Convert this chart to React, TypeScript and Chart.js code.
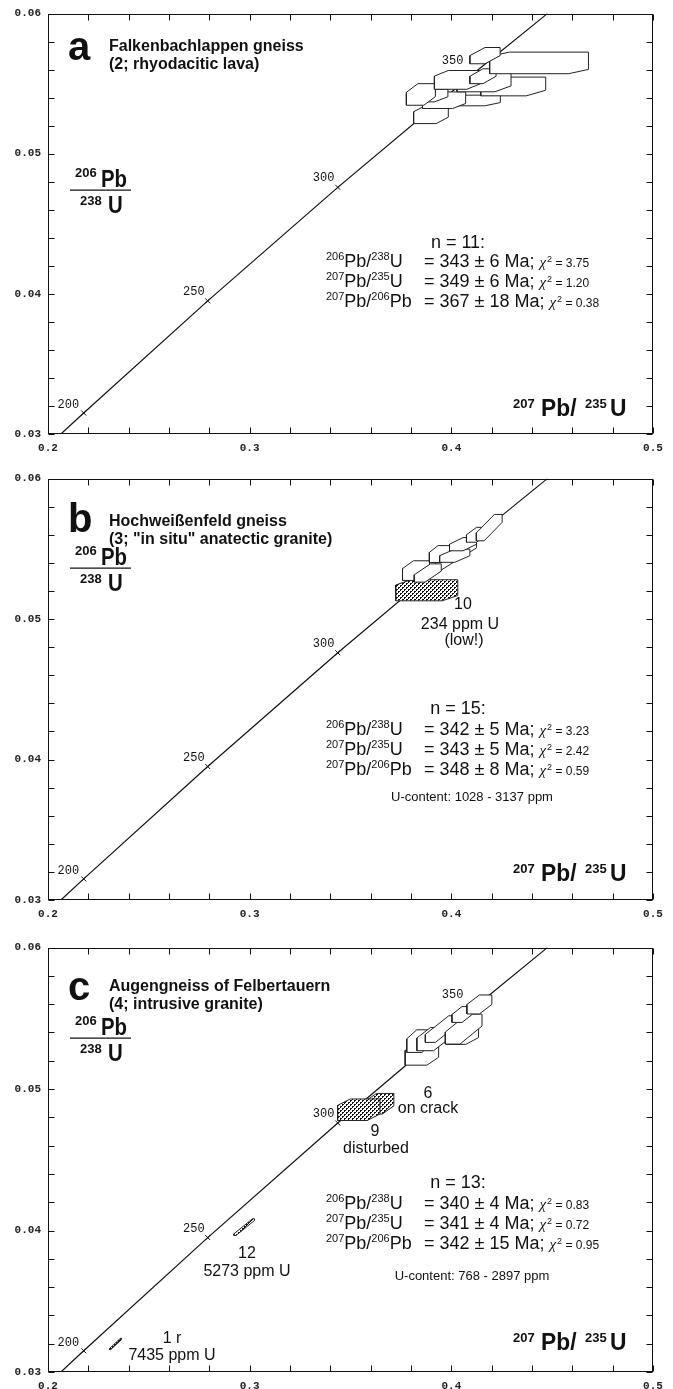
import React, { useEffect, useRef } from "react";
import { Chart, registerables } from "chart.js";
Chart.register(...registerables);

// ---------- axes ----------
const X_MIN = 0.2, X_MAX = 0.5, Y_MIN = 0.03, Y_MAX = 0.06;
const xTickValues = [0.2, 0.3, 0.4, 0.5];
const xTickLabels = ["0.2", "0.3", "0.4", "0.5"];
const yTickValues = [0.03, 0.04, 0.05, 0.06];
const yTickLabels = ["0.03", "0.04", "0.05", "0.06"];
const xMinorTicks = [0.2, 0.22, 0.24, 0.26, 0.28, 0.3, 0.32, 0.34, 0.36, 0.38, 0.4, 0.42, 0.44, 0.46, 0.48, 0.5];
const yMinorTicks = [0.03, 0.032, 0.034, 0.036, 0.038, 0.04, 0.042, 0.044, 0.046, 0.048, 0.05, 0.052, 0.054, 0.056, 0.058, 0.06];

// ---------- concordia ----------
const concordiaX = [0.2064, 0.2177, 0.2792, 0.3437, 0.4116, 0.4476];
const concordiaY = [0.0300, 0.0315, 0.0395, 0.0476, 0.0558, 0.0600];
const ageMarkX = [0.2177, 0.2792, 0.3437, 0.4116];
const ageMarkY = [0.0315, 0.0395, 0.0476, 0.0558];
const ageLabels = ["200", "250", "300", "350"];
const ageLabelX = [0.2047, 0.2670, 0.3313, 0.3953];
const ageLabelY = [0.03182, 0.03991, 0.04804, 0.05642];

// ---------- panel a boxes ----------
const aBoxX = [0.3899, 0.4114, 0.3964, 0.3899, 0.3849, 0.4307, 0.4162, 0.4031, 0.4157, 0.4435, 0.4167];
const aBoxY = [0.0528, 0.0538, 0.05382, 0.05415, 0.05423, 0.0548, 0.05512, 0.05527, 0.05553, 0.05648, 0.0570];
const aBoxSX = [0.0086, 0.0129, 0.0107, 0.0084, 0.0072, 0.0161, 0.0134, 0.0115, 0.0065, 0.0245, 0.0075];
const aBoxSY = [0.00065, 0.00038, 0.00059, 0.00045, 0.00077, 0.00067, 0.0007, 0.00067, 0.00053, 0.00077, 0.00058];
const aBoxRho = [0.35, 0.3, 0.3, 0.4, 0.4, 0.3, 0.3, 0.3, 0.5, 0.2, 0.5];
const aBoxShaded = [0, 0, 0, 0, 0, 0, 0, 0, 0, 0, 0];

// ---------- panel b boxes ----------
const bBoxX = [0.3878, 0.3992, 0.3825, 0.3883, 0.3945, 0.4017, 0.4058, 0.4125, 0.4188];
const bBoxY = [0.05205, 0.05423, 0.05345, 0.05328, 0.05463, 0.05451, 0.05533, 0.0560, 0.05651];
const bBoxSX = [0.0154, 0.0133, 0.0067, 0.0067, 0.0054, 0.0075, 0.0067, 0.005, 0.0064];
const bBoxSY = [0.00075, 0.0012, 0.0007, 0.00065, 0.0006, 0.00047, 0.00047, 0.00053, 0.00094];
const bBoxRho = [0.25, 0.85, 0.4, 0.6, 0.4, 0.5, 0.5, 0.5, 0.7];
const bBoxShaded = [1, 0, 0, 0, 0, 0, 0, 0, 0];

// ---------- panel c boxes ----------
const cBoxX = [0.2335, 0.2973, 0.3643, 0.3541, 0.3854, 0.3841, 0.3904, 0.3954, 0.4056, 0.4061, 0.4053, 0.4139];
const cBoxY = [0.03198, 0.04024, 0.04896, 0.04854, 0.05249, 0.05339, 0.05353, 0.05424, 0.05376, 0.05424, 0.05527, 0.05598];
const cBoxSX = [0.003, 0.0051, 0.0072, 0.0105, 0.0083, 0.0062, 0.0075, 0.0083, 0.0079, 0.0091, 0.005, 0.0062];
const cBoxSY = [0.0004, 0.00059, 0.00073, 0.00076, 0.0008, 0.0008, 0.00082, 0.00094, 0.0006, 0.00106, 0.00056, 0.00067];
const cBoxRho = [0.9, 0.9, 0.4, 0.3, 0.35, 0.4, 0.45, 0.7, 0.4, 0.6, 0.5, 0.5];
const cBoxShaded = [1, 1, 1, 1, 0, 0, 0, 0, 0, 0, 0, 0];

// ---------- texts ----------
const panelLetters = ["a", "b", "c"];
const titles1 = ["Falkenbachlappen gneiss", "Hochweißenfeld gneiss", "Augengneiss of Felbertauern"];
const titles2 = ["(2; rhyodacitic lava)", "(3; \"in situ\" anatectic granite)", "(4; intrusive granite)"];
const nCounts = ["n = 11:", "n = 15:", "n = 13:"];
const ages206238 = ["343 ± 6 Ma;", "342 ± 5 Ma;", "340 ± 4 Ma;"];
const ages207235 = ["349 ± 6 Ma;", "343 ± 5 Ma;", "341 ± 4 Ma;"];
const ages207206 = ["367 ± 18 Ma;", "348 ± 8 Ma;", "342 ± 15 Ma;"];
const chi206238 = ["3.75", "3.23", "0.83"];
const chi207235 = ["1.20", "2.42", "0.72"];
const chi207206 = ["0.38", "0.59", "0.95"];
const uContent = ["", "U-content: 1028 - 3137 ppm", "U-content: 768 - 2897 ppm"];

const SANS = "'Liberation Sans', Arial, sans-serif";
const MONO = "'Liberation Mono', 'DejaVu Sans Mono', monospace";

function hexagon(x: number, y: number, sx: number, sy: number, rho: number) {
  const x0 = x - sx, x1 = x + sx, y0 = y - sy, y1 = y + sy;
  const a = 2 * sx * rho, b = 2 * sy * rho;
  return [
    { x: x0, y: y0 }, { x: x1 - a, y: y0 }, { x: x1, y: y0 + b },
    { x: x1, y: y1 }, { x: x0 + a, y: y1 }, { x: x0, y: y1 - b }, { x: x0, y: y0 },
  ];
}

function makePattern(): CanvasPattern | string {
  const c = document.createElement("canvas");
  c.width = 4; c.height = 4;
  const g = c.getContext("2d");
  if (!g) return "#999";
  g.fillStyle = "#fff"; g.fillRect(0, 0, 4, 4);
  g.fillStyle = "#111";
  g.fillRect(0, 0, 1, 1); g.fillRect(1, 0, 1, 1); g.fillRect(0, 1, 1, 1);
  g.fillRect(2, 2, 1, 1); g.fillRect(3, 2, 1, 1); g.fillRect(2, 3, 1, 1);
  return g.createPattern(c, "repeat") || "#999";
}

function drawCond(ctx: CanvasRenderingContext2D, t: string, x: number, y: number, size: number, sx = 0.85) {
  ctx.save();
  ctx.font = `bold ${size}px ${SANS}`;
  ctx.translate(x, y);
  ctx.scale(sx, 1);
  ctx.fillText(t, 0, 0);
  const w = ctx.measureText(t).width * sx;
  ctx.restore();
  return w;
}

function txt(ctx: CanvasRenderingContext2D, t: string, x: number, y: number, font: string, align: CanvasTextAlign = "left") {
  ctx.font = font;
  ctx.textAlign = align;
  ctx.fillText(t, x, y);
  const w = ctx.measureText(t).width;
  ctx.textAlign = "left";
  return w;
}

type PanelCfg = {
  idx: number; canvasTop: number; canvasH: number;
  boxX: number[]; boxY: number[]; boxSX: number[]; boxSY: number[]; boxRho: number[]; boxShaded: number[];
  letterRel: number; titleRel: number[]; yTitleRel: number; statRel: number[]; uRel: number;
  ageShown: number[];
  extra: (ctx: CanvasRenderingContext2D, top: number) => void;
};

const panels: PanelCfg[] = [
  {
    idx: 0, canvasTop: 0, canvasH: 467,
    boxX: aBoxX, boxY: aBoxY, boxSX: aBoxSX, boxSY: aBoxSY, boxRho: aBoxRho, boxShaded: aBoxShaded,
    letterRel: 46, titleRel: [37, 55], yTitleRel: 176, statRel: [234, 253, 273, 293], uRel: 0,
    ageShown: [0, 1, 2, 3], extra: () => {},
  },
  {
    idx: 1, canvasTop: 465, canvasH: 468,
    boxX: bBoxX, boxY: bBoxY, boxSX: bBoxSX, boxSY: bBoxSY, boxRho: bBoxRho, boxShaded: bBoxShaded,
    letterRel: 53, titleRel: [47, 65], yTitleRel: 89, statRel: [235, 256, 276, 296], uRel: 322,
    ageShown: [0, 1, 2],
    extra: (ctx, top) => {
      const f = `16px ${SANS}`;
      txt(ctx, "10", 463, top + 130, f, "center");
      txt(ctx, "234 ppm U", 460, top + 150, f, "center");
      txt(ctx, "(low!)", 464, top + 166, f, "center");
    },
  },
  {
    idx: 2, canvasTop: 934, canvasH: 471,
    boxX: cBoxX, boxY: cBoxY, boxSX: cBoxSX, boxSY: cBoxSY, boxRho: cBoxRho, boxShaded: cBoxShaded,
    letterRel: 52, titleRel: [43, 61], yTitleRel: 90, statRel: [240, 261, 281, 301], uRel: 332,
    ageShown: [0, 1, 2, 3],
    extra: (ctx, top) => {
      const f = `16px ${SANS}`;
      txt(ctx, "6", 428, top + 150, f, "center");
      txt(ctx, "on crack", 428, top + 165, f, "center");
      txt(ctx, "9", 375, top + 188, f, "center");
      txt(ctx, "disturbed", 376, top + 205, f, "center");
      txt(ctx, "12", 247, top + 310, f, "center");
      txt(ctx, "5273 ppm U", 247, top + 328, f, "center");
      txt(ctx, "1 r", 172, top + 395, f, "center");
      txt(ctx, "7435 ppm U", 172, top + 412, f, "center");
    },
  },
];

function buildChart(canvas: HTMLCanvasElement, p: PanelCfg) {
  const pattern = makePattern();
  const datasets: any[] = [];
  datasets.push({
    data: concordiaX.map((x, i) => ({ x, y: concordiaY[i] })),
    borderColor: "#111", borderWidth: 1.2, pointRadius: 0, fill: false, order: 1000,
  });
  datasets.push({
    data: ageMarkX.map((x, i) => ({ x, y: ageMarkY[i] })),
    showLine: false, pointStyle: "crossRot", pointRadius: 3.5, pointBorderWidth: 1,
    pointBorderColor: "#111", borderColor: "#111", order: 900,
  });
  p.boxX.forEach((x, i) => {
    datasets.push({
      data: hexagon(x, p.boxY[i], p.boxSX[i], p.boxSY[i], p.boxRho[i]),
      borderColor: "#222", borderWidth: 1, pointRadius: 0, fill: "shape",
      backgroundColor: p.boxShaded[i] ? pattern : "#ffffff", order: 500 - i,
    });
  });

  const frame = {
    id: "frame",
    afterDraw(chart: any) {
      const { ctx, chartArea, scales } = chart;
      const xs = scales.x, ys = scales.y;
      const L = Math.round(chartArea.left) + 0.5, R = Math.round(chartArea.right) - 0.5;
      const T = Math.round(chartArea.top) + 0.5, B = Math.round(chartArea.bottom) - 0.5;
      ctx.save();
      ctx.strokeStyle = "#111";
      ctx.lineWidth = 1;
      ctx.strokeRect(L, T, R - L, B - T);
      ctx.beginPath();
      xMinorTicks.forEach((v) => {
        const px = Math.round(xs.getPixelForValue(v)) + 0.5;
        ctx.moveTo(px, B); ctx.lineTo(px, B - 6);
        ctx.moveTo(px, T); ctx.lineTo(px, T + 6);
      });
      yMinorTicks.forEach((v) => {
        const py = Math.round(ys.getPixelForValue(v)) + 0.5;
        ctx.moveTo(L, py); ctx.lineTo(L + 6, py);
        ctx.moveTo(R, py); ctx.lineTo(R - 6, py);
      });
      ctx.stroke();

      const top = chartArea.top;
      ctx.fillStyle = "#111";
      ctx.textBaseline = "alphabetic";
      p.ageShown.forEach((k) => {
        txt(ctx, ageLabels[k], xs.getPixelForValue(ageLabelX[k]), ys.getPixelForValue(ageLabelY[k]), `12px ${MONO}`);
      });
      txt(ctx, panelLetters[p.idx], 68, top + p.letterRel, `bold 40px ${SANS}`);
      txt(ctx, titles1[p.idx], 109, top + p.titleRel[0], `bold 16px ${SANS}`);
      txt(ctx, titles2[p.idx], 109, top + p.titleRel[1], `bold 16px ${SANS}`);
      const ly = top + p.yTitleRel;
      txt(ctx, "206", 75, ly - 13, `bold 13px ${SANS}`);
      drawCond(ctx, "Pb", 101, ly - 3, 24);
      ctx.beginPath(); ctx.lineWidth = 1.2; ctx.moveTo(70, ly + 0.5); ctx.lineTo(131, ly + 0.5); ctx.stroke();
      txt(ctx, "238", 80, ly + 15, `bold 13px ${SANS}`);
      drawCond(ctx, "U", 108, ly + 23, 24);
      const xb = top + 402;
      txt(ctx, "207", 513, xb - 8, `bold 13px ${SANS}`);
      drawCond(ctx, "Pb/", 541, xb, 24, 0.95);
      txt(ctx, "235", 585, xb - 8, `bold 13px ${SANS}`);
      drawCond(ctx, "U", 610, xb, 24, 0.95);
      const big = `18px ${SANS}`, sup = `11px ${SANS}`;
      txt(ctx, nCounts[p.idx], 458, top + p.statRel[0], big, "center");
      const rows: [string, string, string, string][] = [
        ["206", "238U", ages206238[p.idx], chi206238[p.idx]],
        ["207", "235U", ages207235[p.idx], chi207235[p.idx]],
        ["207", "206Pb", ages207206[p.idx], chi207206[p.idx]],
      ];
      rows.forEach((r, i) => {
        const by = top + p.statRel[i + 1];
        let cx = 326;
        cx += txt(ctx, r[0], cx, by - 7, sup);
        cx += txt(ctx, "Pb/", cx, by, big);
        cx += txt(ctx, r[1].slice(0, 3), cx, by - 7, sup);
        txt(ctx, r[1].slice(3), cx, by, big);
        let ex = 424;
        ex += txt(ctx, "= " + r[2], ex, by, big);
        ex += 5;
        ex += txt(ctx, "χ", ex, by, `italic 15px 'Liberation Serif', serif`);
        ex += txt(ctx, "2", ex + 1, by - 5, `9px ${SANS}`) + 1;
        txt(ctx, " = " + r[3], ex, by, `12px ${SANS}`);
      });
      if (uContent[p.idx]) txt(ctx, uContent[p.idx], 472, top + p.uRel, `13px ${SANS}`, "center");
      p.extra(ctx, top);
      ctx.restore();
    },
  };

  return new Chart(canvas, {
    type: "line",
    data: { datasets },
    options: {
      responsive: false,
      animation: false,
      events: [],
      layout: { padding: { top: 11, right: 20, bottom: 0, left: 0 } },
      plugins: { legend: { display: false }, tooltip: { enabled: false } },
      scales: {
        x: {
          type: "linear", min: X_MIN, max: X_MAX,
          afterBuildTicks: (s: any) => { s.ticks = xTickValues.map((v) => ({ value: v })); },
          afterFit: (s: any) => { s.height = 33; },
          ticks: {
            autoSkip: false, maxRotation: 0, padding: 8, color: "#222",
            font: { family: MONO, size: 11, weight: "bold" },
            callback: (_v: any, i: number) => xTickLabels[i],
          },
          grid: { display: false, drawTicks: false }, border: { display: false },
        },
        y: {
          type: "linear", min: Y_MIN, max: Y_MAX,
          afterBuildTicks: (s: any) => { s.ticks = yTickValues.map((v) => ({ value: v })); },
          afterFit: (s: any) => { s.width = 48; },
          ticks: {
            autoSkip: false, padding: 7, color: "#222",
            font: { family: MONO, size: 11, weight: "bold" },
            callback: (_v: any, i: number) => yTickLabels[i],
          },
          grid: { display: false, drawTicks: false }, border: { display: false },
        },
      },
    } as any,
    plugins: [frame],
  });
}

export default function App() {
  const r0 = useRef<HTMLCanvasElement>(null);
  const r1 = useRef<HTMLCanvasElement>(null);
  const r2 = useRef<HTMLCanvasElement>(null);
  const refs = [r0, r1, r2];
  useEffect(() => {
    document.body.style.margin = "0";
    const charts = panels.map((p, i) => buildChart(refs[i].current as HTMLCanvasElement, p));
    return () => charts.forEach((c) => c.destroy());
  }, []);
  return (
    <div style={{ position: "relative", width: 673, height: 1389, overflow: "hidden", background: "#fff" }}>
      {panels.map((p, i) => (
        <canvas key={i} ref={refs[i]} width={673} height={p.canvasH}
          style={{ position: "absolute", left: 0, top: p.canvasTop, width: 673, height: p.canvasH }} />
      ))}
    </div>
  );
}
